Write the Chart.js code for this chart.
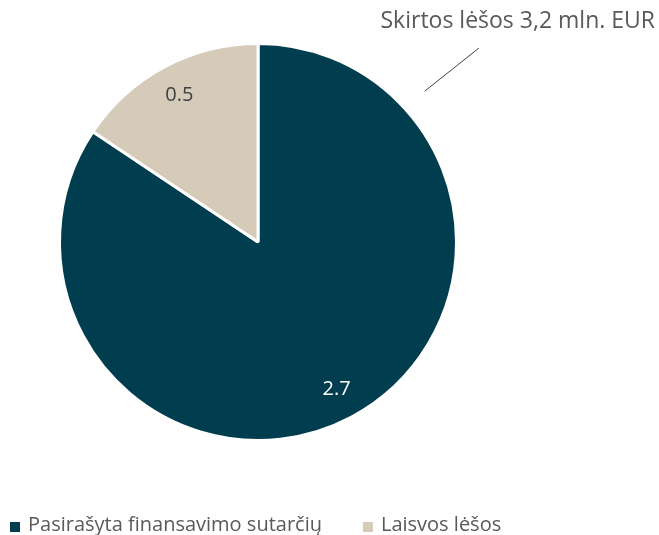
<!DOCTYPE html>
<html>
<head>
<meta charset="utf-8">
<script src="https://cdn.jsdelivr.net/npm/chart.js@4.4.0/dist/chart.umd.min.js"></script>
<style>
  html, body { margin: 0; padding: 0; background: #fff; }
  #wrap { width: 659px; height: 535px; }
</style>
</head>
<body>
<div id="wrap"><canvas id="pieChart" width="659" height="535"></canvas></div>
<script>
const categories = ['Pasirašyta finansavimo sutarčių', 'Laisvos lėšos'];
const values = [2.7, 0.5];
const sliceColors = ['#003E4F', '#D5CBB8'];
const labelColors = ['#FFFFFF', '#404040'];
const totalLabel = 'Skirtos lėšos 3,2 mln. EUR';

const FONT = '"Open Sans", sans-serif';

// value labels inside the slices + the callout text
const sliceLabels = {
    id: 'sliceLabels',
    afterDatasetsDraw(chart) {
        const ctx = chart.ctx;
        const meta = chart.getDatasetMeta(0);
        ctx.save();
        ctx.font = '20px ' + FONT;
        ctx.textAlign = 'center';
        ctx.textBaseline = 'middle';
        meta.data.forEach((arc, i) => {
            const mid = (arc.startAngle + arc.endAngle) / 2;
            const r = arc.outerRadius * 0.84;
            ctx.fillStyle = labelColors[i];
            ctx.fillText(values[i].toFixed(1), arc.x + Math.cos(mid) * r, arc.y + Math.sin(mid) * r);
        });

        // callout
        const arc = meta.data[0];
        ctx.font = '23px ' + FONT;
        ctx.fillStyle = '#595959';
        ctx.textAlign = 'right';
        ctx.fillText(totalLabel, chart.width - 4, 21);
        ctx.strokeStyle = '#404040';
        ctx.lineWidth = 1;
        ctx.beginPath();
        ctx.moveTo(479, 48);
        ctx.lineTo(arc.x + arc.outerRadius * 0.84, arc.y - arc.outerRadius * 0.76);
        ctx.stroke();
        ctx.restore();
    }
};

// legend along the bottom, left aligned
const bottomLegend = {
    id: 'bottomLegend',
    afterDraw(chart) {
        const ctx = chart.ctx;
        ctx.save();
        ctx.font = '20px ' + FONT;
        ctx.textBaseline = 'middle';
        ctx.textAlign = 'left';
        let x = 10;
        const y = 525;
        categories.forEach((c, i) => {
            ctx.fillStyle = sliceColors[i];
            ctx.fillRect(x, y - 3, 10, 10);
            ctx.fillStyle = '#595959';
            ctx.fillText(c, x + 18, y);
            x += 18 + ctx.measureText(c).width + 41;
        });
        ctx.restore();
    }
};

new Chart(document.getElementById('pieChart'), {
    type: 'pie',
    data: {
        labels: categories,
        datasets: [{
            data: values,
            backgroundColor: sliceColors,
            borderColor: '#FFFFFF',
            borderWidth: 3
        }]
    },
    options: {
        responsive: false,
        animation: false,
        layout: { padding: { top: 42, bottom: 93, left: 58, right: 201 } },
        plugins: {
            legend: { display: false },
            tooltip: { enabled: false }
        }
    },
    plugins: [sliceLabels, bottomLegend]
});
</script>
</body>
</html>
